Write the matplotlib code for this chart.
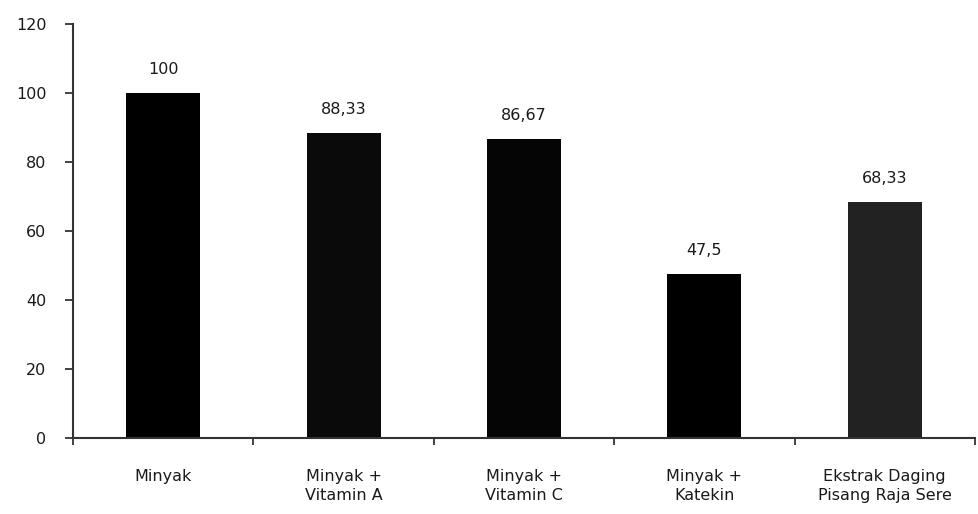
import numpy as np
import matplotlib
matplotlib.use('Agg')
import matplotlib.pyplot as plt

# data
categories = ['Minyak', 'Minyak +\nVitamin A', 'Minyak +\nVitamin C', 'Minyak +\nKatekin', 'Ekstrak Daging\nPisang Raja Sere']
values = [100, 88.33, 86.67, 47.5, 68.33]
value_labels = ['100', '88,33', '86,67', '47,5', '68,33']
bar_colors = ['#000000', '#0a0a0a', '#050505', '#000000', '#222222']

fig = plt.figure(figsize=(9.79, 5.14), dpi=100)
ax = fig.add_axes([73/979., 1-438/514., 902/979., 414/514.])

x = np.arange(len(categories))
ax.bar(x, values, width=0.41, color=bar_colors, zorder=2)

for xi, v, s in zip(x, values, value_labels):
    ax.text(xi, v + 4.6, s, ha='center', va='bottom', fontsize=11.5, color='#1a1a1a')

ax.set_xlim(-0.5, len(categories) - 0.5)
ax.set_ylim(0, 120)
ax.set_yticks(np.arange(0, 121, 20))
ax.set_xticks(x)
ax.set_xticklabels(categories, fontsize=11.5, color='#1a1a1a', linespacing=1.4)
ax.set_xticks(np.arange(-0.5, len(categories), 1.0), minor=True)

ax.tick_params(axis='x', which='major', length=0, pad=22)
ax.tick_params(axis='x', which='minor', length=5, width=1.3, color='#333333')
ax.tick_params(axis='y', length=6, width=1.3, color='#333333', labelsize=11.5, labelcolor='#1a1a1a', pad=13)

for side in ['top', 'right']:
    ax.spines[side].set_visible(False)
for side in ['left', 'bottom']:
    ax.spines[side].set_color('#333333')
    ax.spines[side].set_linewidth(1.5)

plt.savefig('out.png', dpi=100)
